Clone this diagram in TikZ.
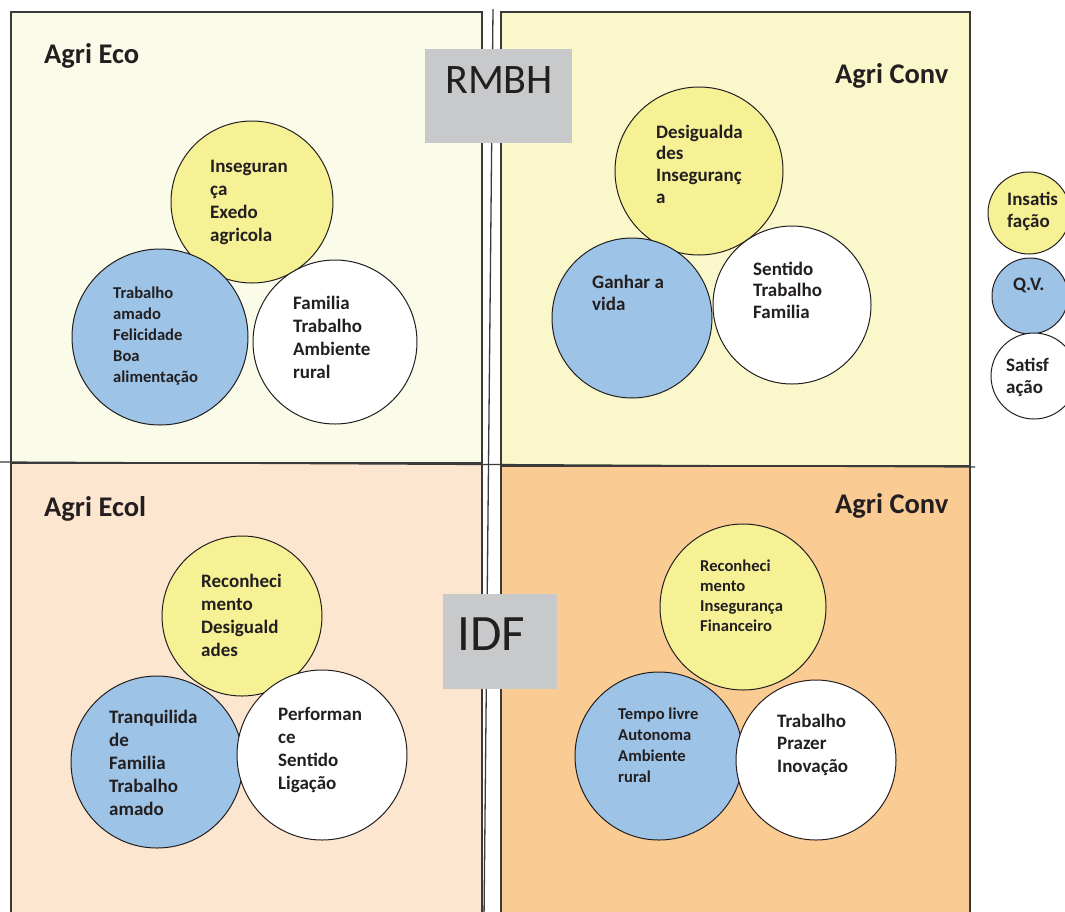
\documentclass[tikz,border=0pt]{standalone}
\usepackage{fontspec}
\setmainfont{Carlito}
\definecolor{qTL}{HTML}{FAFBE8}
\definecolor{qTR}{HTML}{FAF7CB}
\definecolor{qBL}{HTML}{FDE6CF}
\definecolor{qBR}{HTML}{FBCB94}
\definecolor{boxgray}{HTML}{C8C9CB}
\definecolor{cyel}{HTML}{F5F194}
\definecolor{cblue}{HTML}{9DC3E6}
\definecolor{ink}{HTML}{231F20}
\definecolor{edge}{HTML}{3A3A3A}
\newcommand{\stk}[2]{\vtop{\baselineskip=#1\lineskiplimit=-20pt\relax\halign{##\hfil\cr #2\cr}}}
\begin{document}
\begin{tikzpicture}[x=1pt,y=-1pt,
  quad/.style={draw=edge,line width=1.2pt},
  sep/.style={draw=edge,line width=1.3pt},
  bub/.style={circle,draw=ink,line width=1pt,inner sep=0pt},
  txt/.style={anchor=base west,inner sep=0pt,text=ink,font=\bfseries\fontsize{19}{23}\selectfont},
  sml/.style={anchor=base west,inner sep=0pt,text=ink,font=\bfseries\fontsize{16.6}{21}\selectfont},
  ttl/.style={anchor=base west,inner sep=0pt,text=ink,font=\bfseries\fontsize{28.5}{32}\selectfont},
  gbox/.style={fill=boxgray,draw=none}]
\useasboundingbox (0,0) rectangle (1065,911);
\begin{scope}
\clip (0,0) rectangle (1065,911);
% quadrants
\filldraw[quad,fill=qTL] (11,12) rectangle (482,463);
\filldraw[quad,fill=qTR] (501,12) rectangle (970,466);
\filldraw[quad,fill=qBL] (11,463) rectangle (482,920);
\filldraw[quad,fill=qBR] (501,466) rectangle (970,920);
\coordinate (hl) at (0,462);
\coordinate (hr) at (975,467);
\coordinate (vt) at (493,9);
\coordinate (vb) at (484,920);
\draw[sep] (hl) -- (hr);
\draw[sep] (vt) -- (vb);
% gray boxes
\node[gbox,minimum width=147pt,minimum height=94pt,anchor=north west] (rbox) at (425,49) {};
\node[anchor=base west,inner sep=0pt,text=ink,font=\fontsize{42}{46}\selectfont] (rmbh) at (445,93) {RMBH};
\node[gbox,minimum width=114pt,minimum height=95pt,anchor=north west] (ibox) at (443,594) {};
\node[anchor=base west,inner sep=0pt,text=ink,font=\fontsize{51}{55}\selectfont] (idf) at (457,650) {IDF};
% titles
\node[ttl] (t1) at (44,63) {Agri Eco};
\node[ttl] (t2) at (835,83) {Agri Conv};
\node[ttl] (t3) at (44,516) {Agri Ecol};
\node[ttl] (t4) at (835,513) {Agri Conv};
% TL
\node[bub,fill=cyel,minimum size=162pt] (y1) at (252,202) {};
\node[bub,fill=cblue,minimum size=176pt] (b1) at (160,337) {};
\node[bub,fill=white,minimum size=164pt] (w1) at (335,342) {};
\node[txt] (ty1) at (210,172) {\stk{23pt}{Inseguran\cr ça\cr Exedo\cr agricola}};
\node[sml] (tb1) at (113,298) {\stk{21pt}{Trabalho\cr amado\cr Felicidade\cr Boa\cr alimentação}};
\node[txt] (tw1) at (293,309) {\stk{23pt}{Familia\cr Trabalho\cr Ambiente\cr rural}};
% TR
\node[bub,fill=cyel,minimum size=168pt] (y2) at (699,171) {};
\node[bub,fill=cblue,minimum size=160pt] (b2) at (632,318) {};
\node[bub,fill=white,minimum size=158pt] (w2) at (792,305) {};
\node[txt] (ty2) at (656,138) {\stk{21.7pt}{Desigualda\cr des\cr Inseguranç\cr a}};
\node[txt] (tb2) at (592,288) {\stk{22pt}{Ganhar a\cr vida}};
\node[txt] (tw2) at (753,275) {\stk{21.7pt}{Sentido\cr Trabalho\cr Familia}};
% BL
\node[bub,fill=cyel,minimum size=160pt] (y3) at (242,616) {};
\node[bub,fill=cblue,minimum size=172pt] (b3) at (157,762) {};
\node[bub,fill=white,minimum size=170pt] (w3) at (322,755) {};
\node[txt] (ty3) at (201,587) {\stk{23.3pt}{Reconheci\cr mento\cr Desiguald\cr ades}};
\node[txt] (tb3) at (109,723) {\stk{23pt}{Tranquilida\cr de\cr Familia\cr Trabalho\cr amado}};
\node[txt] (tw3) at (278,720) {\stk{23.3pt}{Performan\cr ce\cr Sentido\cr Ligação}};
% BR
\node[bub,fill=cyel,minimum size=166pt] (y4) at (743,607) {};
\node[bub,fill=cblue,minimum size=168pt] (b4) at (659,756) {};
\node[bub,fill=white,minimum size=160pt] (w4) at (816,760) {};
\node[sml] (ty4) at (700,571) {\stk{20.3pt}{Reconheci\cr mento\cr Insegurança\cr Financeiro}};
\node[sml] (tb4) at (618,719) {\stk{21pt}{Tempo livre\cr Autonoma\cr Ambiente\cr rural}};
\node[txt] (tw4) at (777,727) {\stk{22.8pt}{Trabalho\cr Prazer\cr Inovação}};
% legend
\node[bub,fill=cyel,minimum size=82pt] (ly) at (1029,213) {};
\node[bub,fill=cblue,minimum size=76pt] (lb) at (1030,296) {};
\node[bub,fill=white,minimum size=86pt] (lw) at (1034,376) {};
\node[txt] (tly) at (1007,205) {\stk{22pt}{Insatis\cr fação}};
\node[txt] (tlb) at (1013,290) {Q.V.};
\node[txt] (tlw) at (1006,371) {\stk{22pt}{Satisf\cr ação}};
\end{scope}
\end{tikzpicture}
\end{document}
